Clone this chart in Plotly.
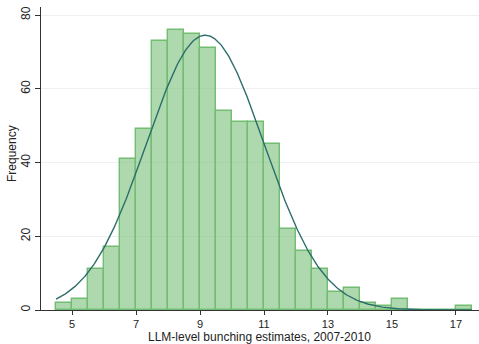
import numpy as np
import plotly.graph_objects as go

# Histogram of LLM-level bunching estimates (bin width 0.5, starting at 4.5)
bin_start = 4.5
bin_width = 0.5
counts = [2, 3, 11, 17, 41, 49, 73, 76, 75, 71, 54, 51, 51, 45,
          22, 16, 11, 5, 6, 2, 1, 3, 0, 0, 0, 1]
x_ticks = [5, 7, 9, 11, 13, 15, 17]
y_ticks = [0, 20, 40, 60, 80]
x_title = "LLM-level bunching estimates, 2007-2010"
y_title = "Frequency"

counts = np.array(counts, dtype=float)
edges = bin_start + bin_width * np.arange(len(counts) + 1)
mids = (edges[:-1] + edges[1:]) / 2

# Normal density scaled to frequencies, using the mean/sd of the binned data
n = counts.sum()
mu = (counts * mids).sum() / n
sd = np.sqrt((counts * (mids - mu) ** 2).sum() / n)
xs = np.linspace(edges[0], edges[-1], 400)
ys = n * bin_width * np.exp(-0.5 * ((xs - mu) / sd) ** 2) / (sd * np.sqrt(2 * np.pi))

fig = go.Figure()
fig.add_trace(go.Bar(
    x=mids, y=counts, width=bin_width,
    marker=dict(color="rgba(125,192,125,0.62)",
                line=dict(color="#72bd72", width=1.4)),
    hoverinfo="skip",
))
fig.add_trace(go.Scatter(
    x=xs, y=ys, mode="lines",
    line=dict(color="#2c6e6a", width=1.4),
    hoverinfo="skip",
))

font = dict(family="Liberation Sans, Arial, sans-serif", size=12, color="#222")
fig.update_layout(
    width=479, height=344,
    margin=dict(l=41, r=0, t=7, b=34),
    paper_bgcolor="white", plot_bgcolor="white",
    showlegend=False, bargap=0,
    font=font,
)
fig.update_xaxes(
    range=[4.03, 17.72],
    tickvals=x_ticks, ticks="outside", ticklen=4, tickcolor="#333",
    showline=True, linecolor="#333", linewidth=1,
    showgrid=False, zeroline=False,
    tickfont=dict(size=11),
)
fig.update_yaxes(
    range=[0, 82.2],
    tickvals=y_ticks, ticks="outside", ticklen=5, tickcolor="#333",
    tickangle=-90,
    showline=True, linecolor="#333", linewidth=1,
    showgrid=True, gridcolor="#edf1f1", gridwidth=1, zeroline=False,
    tickfont=dict(size=12),
)

# Axis titles as annotations: x title sits on the bottom edge of the page
fig.add_annotation(
    text=x_title, showarrow=False,
    xref="paper", yref="paper", x=0.498, y=-34 / 303,
    xanchor="center", yanchor="bottom", yshift=-2,
    font=dict(size=12),
)
fig.add_annotation(
    text=y_title, textangle=-90, showarrow=False,
    xref="paper", yref="paper", x=-0.066, y=0.515,
    xanchor="center", yanchor="middle",
    font=dict(size=12),
)

fig.write_html("out.html")
